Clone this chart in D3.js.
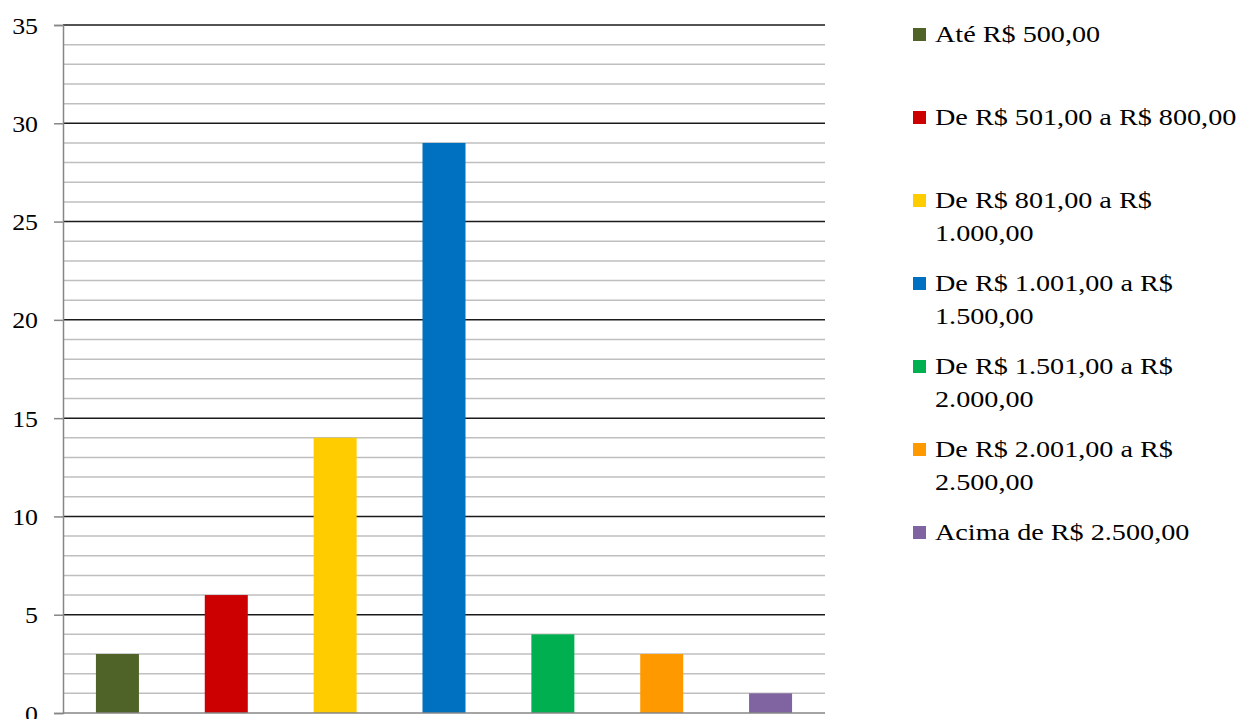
<!DOCTYPE html>
<html>
<head>
<meta charset="utf-8">
<script src="https://cdn.jsdelivr.net/npm/d3@7"></script>
<style>
  html, body { margin: 0; padding: 0; background: #fff; }
  svg { display: block; }
  text { font-family: "Liberation Serif", "Times New Roman", serif; fill: #000; }
</style>
</head>
<body>
<svg id="chart" width="1251" height="719"></svg>
<script>
// Faixas de renda e número de respondentes em cada uma
const categories = [
  "Até R$ 500,00",
  "De R$ 501,00 a R$ 800,00",
  "De R$ 801,00 a R$ 1.000,00",
  "De R$ 1.001,00 a R$ 1.500,00",
  "De R$ 1.501,00 a R$ 2.000,00",
  "De R$ 2.001,00 a R$ 2.500,00",
  "Acima de R$ 2.500,00"
];
const values = [3, 6, 14, 29, 4, 3, 1];
const colors = ["#4F6228", "#CC0000", "#FFCC00", "#0070C0", "#00B050", "#FF9900", "#8064A2"];
// Linhas da legenda (quebra como no layout original)
const legendLines = [
  ["Até R$ 500,00"],
  ["De R$ 501,00 a R$ 800,00"],
  ["De R$ 801,00 a R$", "1.000,00"],
  ["De R$ 1.001,00 a R$", "1.500,00"],
  ["De R$ 1.501,00 a R$", "2.000,00"],
  ["De R$ 2.001,00 a R$", "2.500,00"],
  ["Acima de R$ 2.500,00"]
];
const yMax = 35;
const majorTicks = [0, 5, 10, 15, 20, 25, 30, 35];

const svg = d3.select("#chart");
const plot = { left: 63, right: 825, top: 25, bottom: 713 };

const x = d3.scaleBand()
  .domain(categories)
  .range([plot.left, plot.right])
  .paddingInner(0.605)
  .paddingOuter(0.3025);

const y = d3.scaleLinear().domain([0, yMax]).range([plot.bottom, plot.top]);

// Linhas de grade secundárias (a cada unidade)
const minor = d3.range(1, yMax).filter(v => v % 5 !== 0);
svg.append("g").selectAll("line").data(minor).join("line")
  .attr("x1", plot.left).attr("x2", plot.right)
  .attr("y1", d => y(d)).attr("y2", d => y(d))
  .attr("stroke", "#BFBFBF").attr("stroke-width", 1.5);

// Linhas de grade principais
svg.append("g").selectAll("line").data(majorTicks.filter(v => v > 0)).join("line")
  .attr("x1", plot.left).attr("x2", plot.right)
  .attr("y1", d => y(d)).attr("y2", d => y(d))
  .attr("stroke", "#1a1a1a").attr("stroke-width", 1.5);

// Barras
svg.append("g").selectAll("rect").data(values).join("rect")
  .attr("x", (d, i) => x(categories[i]))
  .attr("width", x.bandwidth())
  .attr("y", d => y(d))
  .attr("height", d => y(0) - y(d))
  .attr("fill", (d, i) => colors[i]);

// Eixo Y
const yAxis = d3.axisLeft(y).tickValues(majorTicks).tickSize(9).tickPadding(0).tickFormat(d3.format("d"));
const gy = svg.append("g").attr("transform", `translate(${plot.left},0)`).call(yAxis);
gy.select(".domain").attr("stroke", "#868686").attr("stroke-width", 1.5);
gy.selectAll(".tick line").attr("stroke", "#868686").attr("stroke-width", 1.5);
gy.selectAll(".tick text")
  .attr("x", 0).attr("dy", null)
  .attr("font-size", 23.5)
  .attr("font-family", "'Liberation Serif', 'Times New Roman', serif")
  .attr("text-anchor", "end")
  .attr("dominant-baseline", "central")
  .attr("transform", "translate(-25,0) scale(1.1,1)");

// Eixo X (linha base)
svg.append("line")
  .attr("x1", plot.left).attr("x2", plot.right)
  .attr("y1", y(0)).attr("y2", y(0))
  .attr("stroke", "#868686").attr("stroke-width", 1.5);

// Legenda
const legend = svg.append("g");
const item = legend.selectAll("g").data(legendLines).join("g")
  .attr("transform", (d, i) => `translate(913, ${42 + i * 83})`);
item.append("rect")
  .attr("x", 0).attr("y", -14).attr("width", 13).attr("height", 13)
  .attr("fill", (d, i) => colors[i]);
item.each(function(lines) {
  const g = d3.select(this);
  lines.forEach((t, k) => {
    g.append("text")
      .attr("transform", `translate(22, ${k * 33}) scale(1.2,1)`)
      .attr("font-size", 23.5)
      .text(t);
  });
});
</script>
</body>
</html>
